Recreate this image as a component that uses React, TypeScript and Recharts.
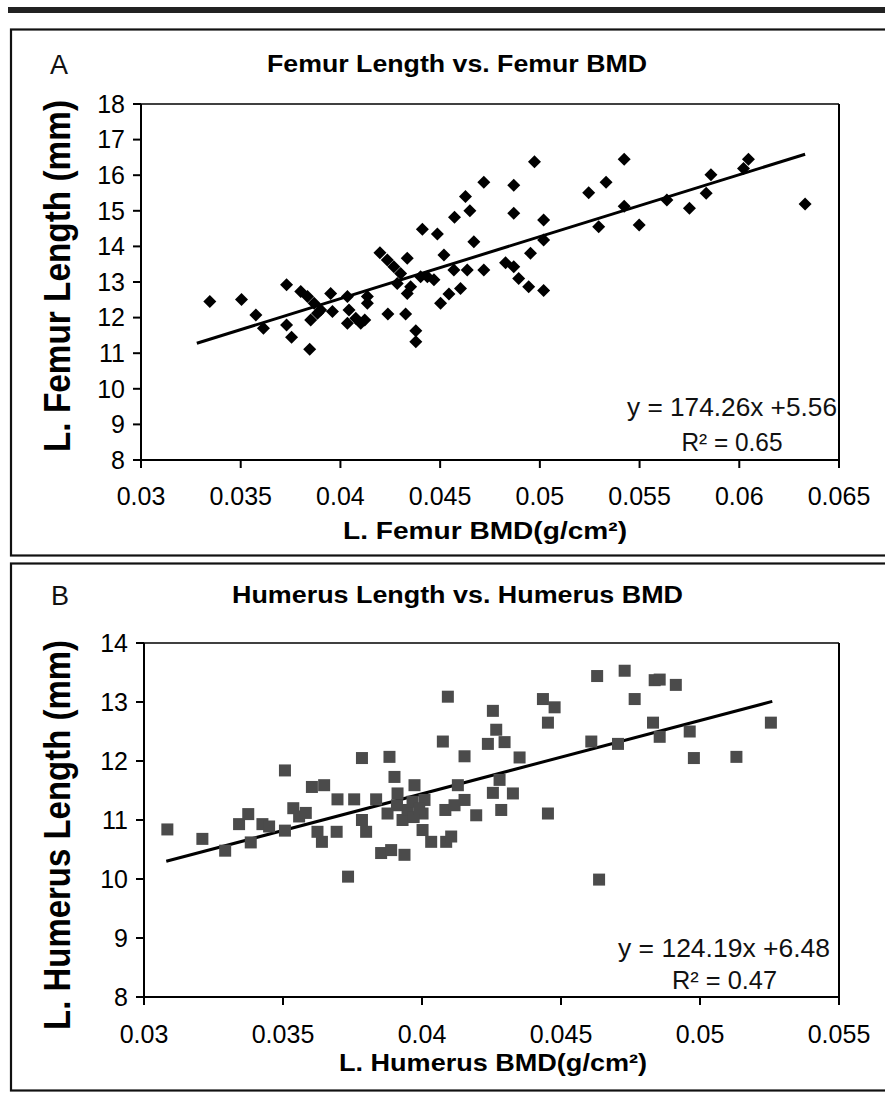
import React from 'react';
import { ScatterChart, Scatter, XAxis, YAxis, ReferenceLine } from 'recharts';

// ---------- Panel A: femur ----------
const femurBMD = [
  0.03345, 0.03504, 0.03576, 0.03614, 0.0373, 0.0373, 0.03755, 0.03846, 0.03801, 0.03835,
  0.03868, 0.03901, 0.03851, 0.03885, 0.03951, 0.0396, 0.04035, 0.04043, 0.04035, 0.04077,
  0.04102, 0.04135, 0.04135, 0.04122, 0.04198, 0.04235, 0.04238, 0.04268, 0.04335, 0.04302,
  0.04285, 0.04327, 0.04335, 0.04352, 0.04378, 0.04378, 0.04402, 0.04436, 0.04469, 0.04411,
  0.04486, 0.04502, 0.04544, 0.04602, 0.04519, 0.04569, 0.04669, 0.04572, 0.04649, 0.04627,
  0.04719, 0.04636, 0.04719, 0.04828, 0.04869, 0.04894, 0.04944, 0.05019, 0.04869, 0.04869,
  0.04973, 0.04953, 0.05019, 0.05019, 0.05245, 0.05332, 0.05295, 0.05423, 0.05423, 0.05498,
  0.05637, 0.0575, 0.05834, 0.05858, 0.06046, 0.06021, 0.0633,
];
const femurLength = [
  12.45, 12.51, 12.07, 11.7, 12.92, 11.79, 11.45, 11.11, 12.73, 12.59,
  12.4, 12.21, 11.93, 12.12, 12.68, 12.17, 12.59, 12.21, 11.84, 11.98,
  11.84, 12.59, 12.4, 11.93, 13.82, 13.62, 12.1, 13.43, 13.67, 13.24,
  12.96, 12.1, 12.68, 12.87, 11.63, 11.32, 13.15, 13.15, 13.06, 14.48,
  14.35, 12.4, 12.66, 12.82, 13.76, 13.34, 14.13, 14.82, 15.0, 15.4,
  15.8, 13.34, 13.34, 13.54, 13.43, 13.1, 12.87, 12.76, 15.72, 14.93,
  16.38, 13.81, 14.74, 14.18, 15.51, 15.8, 14.55, 16.45, 15.13, 14.6,
  15.3, 15.07, 15.49, 16.01, 16.45, 16.19, 15.19,
];
const femurXTicks = [0.03, 0.035, 0.04, 0.045, 0.05, 0.055, 0.06, 0.065];
const femurYTicks = [8, 9, 10, 11, 12, 13, 14, 15, 16, 17, 18];
const femurTrendX = [0.0328, 0.0633];
const femurTrendY = [11.28, 16.59];

// ---------- Panel B: humerus ----------
const humerusBMD = [
  0.03084, 0.0321, 0.03292, 0.03342, 0.03375, 0.03384, 0.03426, 0.0345, 0.03507, 0.03507,
  0.03537, 0.03558, 0.03582, 0.03604, 0.03648, 0.03624, 0.0364, 0.03693, 0.03696, 0.03756,
  0.03734, 0.03784, 0.03784, 0.03799, 0.03835, 0.03853, 0.03876, 0.03883, 0.03889, 0.03901,
  0.03912, 0.03937, 0.0393, 0.03948, 0.03973, 0.03966, 0.04002, 0.04009, 0.04002, 0.04033,
  0.04075, 0.04093, 0.04084, 0.04087, 0.04105, 0.04117, 0.04153, 0.04153, 0.04195, 0.04237,
  0.04255, 0.04267, 0.04285, 0.04255, 0.04279, 0.04297, 0.04351, 0.04327, 0.04129, 0.04435,
  0.04477, 0.04453, 0.04453, 0.0463, 0.04729, 0.04765, 0.04637, 0.04609, 0.04705, 0.04831,
  0.04855, 0.04837, 0.04855, 0.04913, 0.04963, 0.04978, 0.05131, 0.05255, 0.0397, 0.0399,
  0.0391,
];
const humerusLength = [
  10.84, 10.68, 10.48, 10.93, 11.1, 10.62, 10.93, 10.89, 11.84, 10.82,
  11.2, 11.06, 11.12, 11.56, 11.59, 10.8, 10.63, 10.8, 11.35, 11.35,
  10.04, 12.05, 11.0, 10.8, 11.35, 10.44, 11.11, 12.07, 10.49, 11.73,
  11.45, 10.41, 11.0, 11.17, 11.59, 11.31, 11.11, 11.34, 10.83, 10.63,
  12.33, 13.09, 11.17, 10.63, 10.72, 11.25, 12.08, 11.34, 11.08, 12.29,
  12.85, 12.53, 11.17, 11.46, 11.68, 12.32, 12.06, 11.45, 11.59, 13.05,
  12.91, 12.65, 11.11, 13.44, 13.53, 13.05, 9.99, 12.33, 12.29, 12.65,
  12.41, 13.37, 13.38, 13.29, 12.5, 12.05, 12.07, 12.65, 11.05, 11.2,
  11.25,
];
const humerusXTicks = [0.03, 0.035, 0.04, 0.045, 0.05, 0.055];
const humerusYTicks = [8, 9, 10, 11, 12, 13, 14];
const humerusTrendX = [0.0308, 0.0526];
const humerusTrendY = [10.3, 13.01];

const femurData = femurBMD.map((x, i) => ({ x, y: femurLength[i] }));
const humerusData = humerusBMD.map((x, i) => ({ x, y: humerusLength[i] }));

const FONT = "'Liberation Sans', Arial, Helvetica, sans-serif";

const Diamond = (props: any) => {
  const { cx, cy } = props;
  if (cx == null || cy == null) return <g />;
  const r = 6.5;
  return (
    <path
      d={`M${cx},${cy - r}L${cx + r},${cy}L${cx},${cy + r}L${cx - r},${cy}Z`}
      fill="#000"
    />
  );
};

const Square = (props: any) => {
  const { cx, cy } = props;
  if (cx == null || cy == null) return <g />;
  return <rect x={cx - 6} y={cy - 6} width={12} height={12} fill="#4b4b4b" />;
};

const AxisTitle = (props: any) => {
  const { tx, ty, text, len, rotate, size } = props;
  return (
    <text
      x={tx}
      y={ty}
      textAnchor="middle"
      fontFamily={FONT}
      fontWeight="bold"
      fontSize={size}
      fill="#000"
      textLength={len}
      lengthAdjust="spacingAndGlyphs"
      transform={rotate ? `rotate(-90, ${tx}, ${ty})` : undefined}
    >
      {text}
    </text>
  );
};

const fmt = (v: number) => String(v);
const tickStyle = { fontSize: 25, fill: '#000', fontFamily: FONT };
const axisStroke = { stroke: '#000', strokeWidth: 2 };

export default function App() {
  return (
    <div style={{ position: 'absolute', left: 0, top: 0, width: 885, height: 1116, background: '#fff', overflow: 'hidden' }}>
      {/* Panel A chart */}
      <div style={{ position: 'absolute', left: 0, top: 0 }}>
        <ScatterChart width={885} height={560} margin={{ top: 104, right: 46, bottom: 0, left: 0 }}>
          <XAxis
            type="number"
            dataKey="x"
            domain={[0.03, 0.065]}
            ticks={femurXTicks}
            interval={0}
            tickFormatter={fmt}
            height={100}
            tickSize={8}
            tickMargin={19}
            axisLine={axisStroke}
            tickLine={axisStroke}
            tick={tickStyle}
            allowDataOverflow
            label={<AxisTitle tx={485} ty={539} text="L. Femur BMD(g/cm²)" len={284} size={24} />}
          />
          <YAxis
            type="number"
            dataKey="y"
            domain={[8, 18]}
            ticks={femurYTicks}
            interval={0}
            width={141}
            tickSize={8}
            tickMargin={8}
            axisLine={axisStroke}
            tickLine={axisStroke}
            tick={tickStyle}
            allowDataOverflow
            label={<AxisTitle tx={70} ty={276} text="L. Femur Length (mm)" len={352} size={36} rotate />}
          />
          <ReferenceLine y={18} stroke="#000" strokeWidth={1.5} />
          <ReferenceLine x={0.065} stroke="#000" strokeWidth={2} />
          <Scatter data={femurData} shape={<Diamond />} isAnimationActive={false} />
          <ReferenceLine
            segment={[
              { x: femurTrendX[0], y: femurTrendY[0] },
              { x: femurTrendX[1], y: femurTrendY[1] },
            ]}
            stroke="#000"
            strokeWidth={3}
          />
        </ScatterChart>
      </div>

      {/* Panel B chart */}
      <div style={{ position: 'absolute', left: 0, top: 560 }}>
        <ScatterChart width={885} height={556} margin={{ top: 83, right: 46, bottom: 0, left: 0 }}>
          <XAxis
            type="number"
            dataKey="x"
            domain={[0.03, 0.055]}
            ticks={humerusXTicks}
            interval={0}
            tickFormatter={fmt}
            height={119}
            tickSize={8}
            tickMargin={20}
            axisLine={axisStroke}
            tickLine={axisStroke}
            tick={tickStyle}
            allowDataOverflow
            label={<AxisTitle tx={493} ty={511} text="L. Humerus BMD(g/cm²)" len={308} size={24} />}
          />
          <YAxis
            type="number"
            dataKey="y"
            domain={[8, 14]}
            ticks={humerusYTicks}
            interval={0}
            width={144}
            tickSize={8}
            tickMargin={8}
            axisLine={axisStroke}
            tickLine={axisStroke}
            tick={tickStyle}
            allowDataOverflow
            label={<AxisTitle tx={70} ty={275} text="L. Humerus Length (mm)" len={390} size={36} rotate />}
          />
          <ReferenceLine y={14} stroke="#000" strokeWidth={1.5} />
          <ReferenceLine x={0.055} stroke="#000" strokeWidth={2} />
          <Scatter data={humerusData} shape={<Square />} isAnimationActive={false} />
          <ReferenceLine
            segment={[
              { x: humerusTrendX[0], y: humerusTrendY[0] },
              { x: humerusTrendX[1], y: humerusTrendY[1] },
            ]}
            stroke="#000"
            strokeWidth={3}
          />
        </ScatterChart>
      </div>

      {/* Frame, titles, panel letters, equations */}
      <svg
        width={885}
        height={1116}
        style={{ position: 'absolute', left: 0, top: 0, pointerEvents: 'none' }}
      >
        <rect x={8} y={7} width={877} height={6} fill="#222" />
        <rect x={11} y={29.5} width={885} height={526} fill="none" stroke="#111" strokeWidth={2.2} />
        <rect x={11} y={563.5} width={885} height={527} fill="none" stroke="#111" strokeWidth={2.2} />

        <text x={59} y={74} textAnchor="middle" fontFamily={FONT} fontSize={27} fill="#111">A</text>
        <text x={457} y={72} textAnchor="middle" fontFamily={FONT} fontWeight="bold" fontSize={23} fill="#000" textLength={380} lengthAdjust="spacingAndGlyphs">
          Femur Length vs. Femur BMD
        </text>
        <text x={837} y={416} textAnchor="end" fontFamily={FONT} fontSize={25} fill="#111" textLength={210} lengthAdjust="spacingAndGlyphs">
          y = 174.26x +5.56
        </text>
        <text x={732} y={451} textAnchor="middle" fontFamily={FONT} fontSize={25} fill="#111" textLength={101} lengthAdjust="spacingAndGlyphs">
          R² = 0.65
        </text>

        <text x={60} y={605} textAnchor="middle" fontFamily={FONT} fontSize={27} fill="#111">B</text>
        <text x={457.5} y={603} textAnchor="middle" fontFamily={FONT} fontWeight="bold" fontSize={23} fill="#000" textLength={451} lengthAdjust="spacingAndGlyphs">
          Humerus Length vs. Humerus BMD
        </text>
        <text x={830} y={957} textAnchor="end" fontFamily={FONT} fontSize={25} fill="#111" textLength={212} lengthAdjust="spacingAndGlyphs">
          y = 124.19x +6.48
        </text>
        <text x={724.5} y={989} textAnchor="middle" fontFamily={FONT} fontSize={25} fill="#111" textLength={105} lengthAdjust="spacingAndGlyphs">
          R² = 0.47
        </text>
      </svg>
    </div>
  );
}
